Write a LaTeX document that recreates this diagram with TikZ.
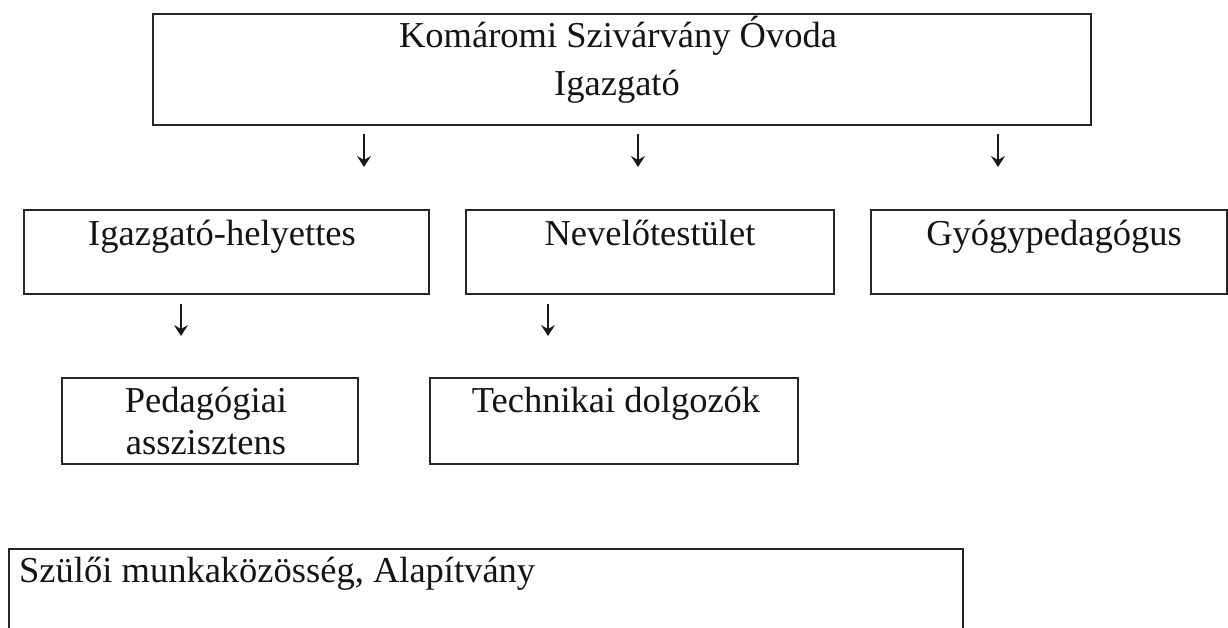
\documentclass[tikz,border=0pt]{standalone}
\usepackage{fontspec}
\setmainfont{Liberation Serif}
\usetikzlibrary{arrows.meta}
\begin{document}
\begin{tikzpicture}[x=1pt,y=-1pt,
  box/.style={draw=black!85, line width=1.8pt, rectangle, inner sep=0pt},
  lbl/.style={anchor=base, inner sep=0pt, font=\fontsize{36.5}{40}\selectfont, text=black!92},
  arrline/.style={draw=black!90, line width=1.6pt, -{Stealth[length=11pt,width=14pt,inset=4pt]}}]
\useasboundingbox (0,0) rectangle (1228,627);
\clip (0,0) rectangle (1228,627);
\fill[white] (0,0) rectangle (1228,627);
% boxes
\node[box, minimum width=938pt, minimum height=111pt, anchor=north west] (top) at (152,13) {};
\node[box, minimum width=405pt, minimum height=84pt, anchor=north west] (ih) at (23,209) {};
\node[box, minimum width=368pt, minimum height=84pt, anchor=north west] (nt) at (465,209) {};
\node[box, minimum width=356pt, minimum height=84pt, anchor=north west] (gy) at (870,209) {};
\node[box, minimum width=296pt, minimum height=86pt, anchor=north west] (pa) at (61,377) {};
\node[box, minimum width=368pt, minimum height=86pt, anchor=north west] (td) at (429,377) {};
\node[box, minimum width=954pt, minimum height=100pt, anchor=north west] (sz) at (8,548) {};
% texts
\node[lbl] (t1) at (618,47) {Komáromi Szivárvány Óvoda};
\node[lbl] (t2) at (617,95) {Igazgató};
\node[lbl] (t3) at (222,245) {Igazgató-helyettes};
\node[lbl] (t4) at (650,245) {Nevelőtestület};
\node[lbl] (t5) at (1054,245) {Gyógypedagógus};
\node[lbl] (t6) at (206,412) {Pedagógiai};
\node[lbl] (t7) at (206,454) {asszisztens};
\node[lbl] (t8) at (616,412) {Technikai dolgozók};
\node[lbl, anchor=base west] (t9) at (19,582) {Szülői munkaközösség, Alapítvány};
% arrows
\coordinate (a1s) at (364,134); \coordinate (a1e) at (364,167);
\coordinate (a2s) at (638,134); \coordinate (a2e) at (638,167);
\coordinate (a3s) at (998,134); \coordinate (a3e) at (998,167);
\coordinate (a4s) at (181,304); \coordinate (a4e) at (181,336);
\coordinate (a5s) at (548,304); \coordinate (a5e) at (548,336);
\draw[arrline] (a1s) -- (a1e);
\draw[arrline] (a2s) -- (a2e);
\draw[arrline] (a3s) -- (a3e);
\draw[arrline] (a4s) -- (a4e);
\draw[arrline] (a5s) -- (a5e);
\end{tikzpicture}
\end{document}
